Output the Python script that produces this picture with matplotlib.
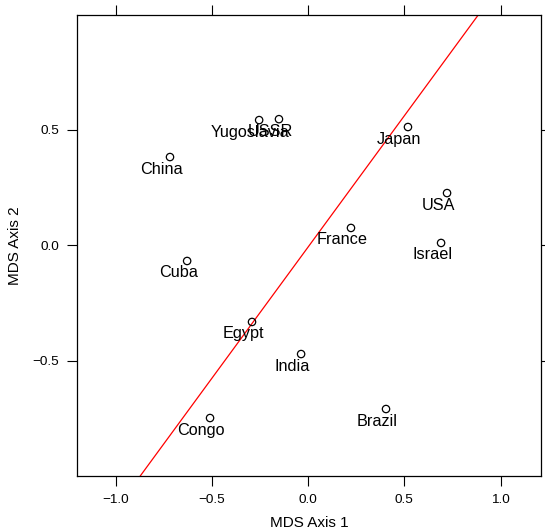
import matplotlib
matplotlib.use("Agg")
import matplotlib.pyplot as plt

plt.rcParams['font.family'] = ['Liberation Sans', 'DejaVu Sans']

countries = ['China', 'Yugoslavia', 'USSR', 'Japan', 'USA', 'France',
             'Israel', 'Cuba', 'Egypt', 'India', 'Brazil', 'Congo']
axis1 = [-0.717, -0.254, -0.151, 0.519, 0.722, 0.223,
         0.691, -0.628, -0.291, -0.036, 0.405, -0.509]
axis2 = [0.381, 0.541, 0.545, 0.511, 0.225, 0.074,
         0.009, -0.069, -0.333, -0.472, -0.710, -0.749]

# fitted line
line_intercept = -0.009
line_slope = 1.137

fig = plt.figure(figsize=(5.45, 5.3), dpi=100)
ax = fig.add_axes([77 / 545, 54 / 530, 464 / 545, 461 / 530])

ax.scatter(axis1, axis2, s=28, facecolors='none', edgecolors='black',
           linewidths=0.9, zorder=3)
for name, x, y in zip(countries, axis1, axis2):
    ax.annotate(name, (x, y), xytext=(-9, -12), textcoords='offset pixels',
                ha='center', va='center', fontsize=11.7, color='black')

ax.axline((0, line_intercept), slope=line_slope, color='red', lw=0.9)

ax.set_xlim(-1.2, 1.21)
ax.set_ylim(-1.0, 0.996)
ax.set_xticks([-1.0, -0.5, 0.0, 0.5, 1.0])
ax.set_yticks([-0.5, 0.0, 0.5])
ax.set_xticklabels(['\u22121.0', '\u22120.5', '0.0', '0.5', '1.0'])
ax.set_yticklabels(['\u22120.5', '0.0', '0.5'])
ax.tick_params(direction='out', length=7, width=0.8, labelsize=9.7,
               top=True, right=True, pad=6)
for s in ax.spines.values():
    s.set_linewidth(0.9)

ax.set_xlabel('MDS Axis 1', fontsize=11, labelpad=7)
ax.set_ylabel('MDS Axis 2', fontsize=11, labelpad=7)

fig.savefig('out.png', dpi=100)
